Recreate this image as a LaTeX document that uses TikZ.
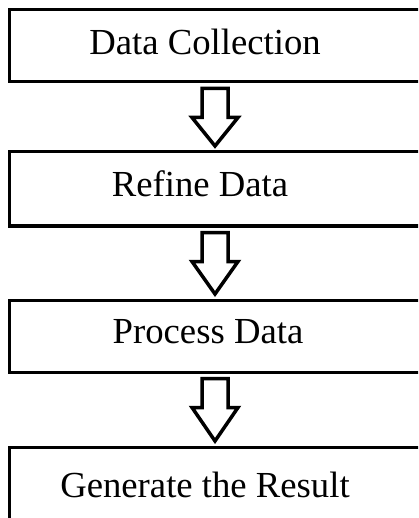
\documentclass[tikz,border=0pt]{standalone}
\usepackage{fontspec}
\setmainfont{Liberation Serif}
\usetikzlibrary{calc}

\tikzset{
  stage/.style={draw, line width=3pt, minimum width=412pt, inner sep=0pt},
  stagetext/.style={font=\fontsize{36.7}{44}\selectfont, anchor=base, inner sep=0pt},
  hollow/.style={draw, line width=3.5pt, fill=white, line join=miter},
}

\begin{document}
\begin{tikzpicture}[x=1pt,y=-1pt]
\useasboundingbox (0,0) rectangle (418,518);
\clip (0,0) rectangle (418,518);
\fill[white] (0,0) rectangle (418,518);

% the four stages
\node[stage, minimum height=72pt] (collect) at (215,46) {};
\node[stage, minimum height=74pt] (refine) at (215,189) {};
\node[stage, minimum height=72pt] (process) at (215,336) {};
\node[stage, minimum height=93pt] (result) at (215,493.5) {};

\node[stagetext] (collect-t) at (205,55) {Data Collection};
\node[stagetext] (refine-t) at (200,197) {Refine Data};
\node[stagetext] (process-t) at (208,343) {Process Data};
\node[stagetext] (result-t) at (205,497) {Generate the Result};

% hollow block arrows between stages
\foreach \a/\b in {collect/refine, refine/process, process/result}
  \draw[hollow] ($(\a.south)+(-13,5)$) -- ($(\a.south)+(-13,34)$) -- ($(\a.south)+(-23,34)$)
    -- ($(\b.north)+(0,-4.5)$)
    -- ($(\a.south)+(23,34)$) -- ($(\a.south)+(13,34)$) -- ($(\a.south)+(13,5)$) -- cycle;
\end{tikzpicture}
\end{document}
